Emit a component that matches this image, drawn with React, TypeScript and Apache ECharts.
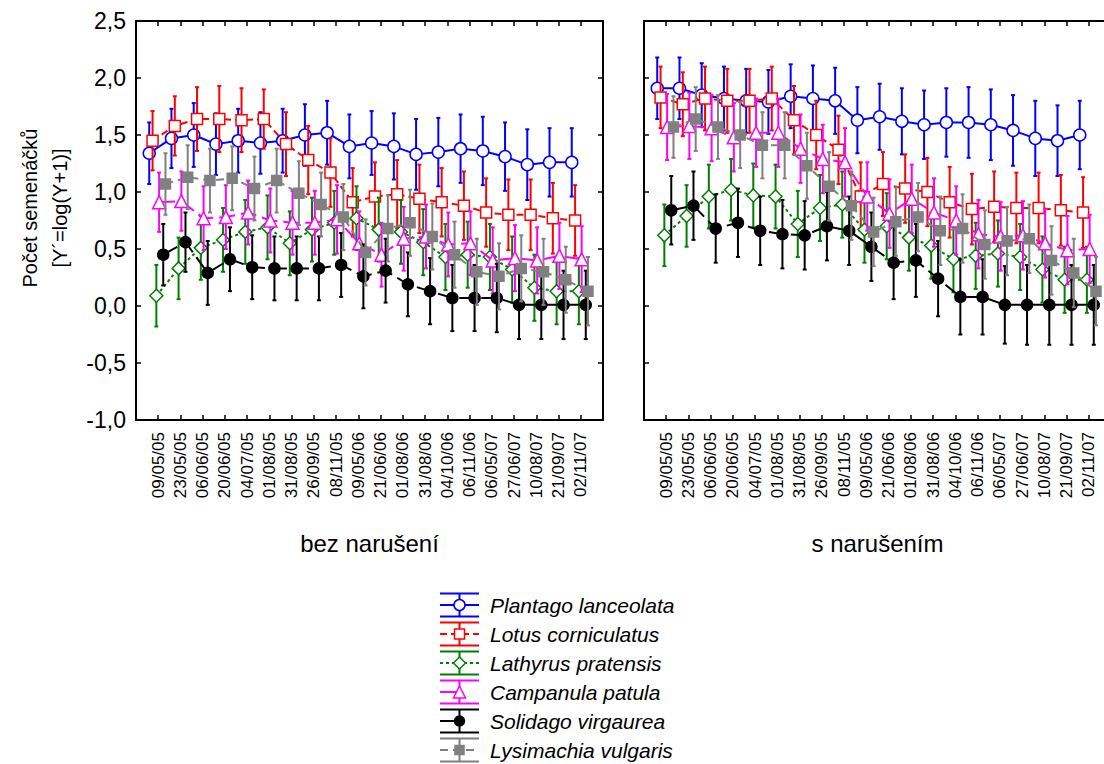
import React, { useEffect, useRef } from 'react';
import * as echarts from 'echarts';

const dates = [
  '09/05/05', '23/05/05', '06/06/05', '20/06/05', '04/07/05', '01/08/05', '31/08/05',
  '26/09/05', '08/11/05', '09/05/06', '21/06/06', '01/08/06', '31/08/06', '04/10/06',
  '06/11/06', '06/05/07', '27/06/07', '10/08/07', '21/09/07', '02/11/07',
];

const speciesNames = [
  'Plantago lanceolata',
  'Lotus corniculatus',
  'Lathyrus pratensis',
  'Campanula patula',
  'Solidago virgaurea',
  'Lysimachia vulgaris',
];

const panelTitles = ['bez narušení', 's narušením'];

// bez narušení – průměry
const plantagoA = [1.34, 1.47, 1.50, 1.42, 1.45, 1.43, 1.45, 1.50, 1.52, 1.40, 1.43, 1.40, 1.33, 1.35, 1.38, 1.36, 1.31, 1.24, 1.26, 1.26];
const lotusA = [1.45, 1.58, 1.64, 1.64, 1.63, 1.64, 1.42, 1.28, 1.17, 0.91, 0.96, 0.98, 0.94, 0.91, 0.88, 0.82, 0.80, 0.80, 0.77, 0.75];
const lathyrusA = [0.09, 0.33, 0.51, 0.58, 0.65, 0.69, 0.55, 0.67, 0.73, 0.77, 0.67, 0.65, 0.56, 0.43, 0.45, 0.43, 0.32, 0.16, 0.13, 0.13];
const campanulaA = [0.91, 0.92, 0.77, 0.78, 0.82, 0.75, 0.73, 0.73, 0.76, 0.55, 0.45, 0.59, 0.61, 0.54, 0.55, 0.40, 0.42, 0.40, 0.44, 0.41];
const solidagoA = [0.45, 0.56, 0.29, 0.41, 0.34, 0.33, 0.33, 0.33, 0.36, 0.26, 0.31, 0.19, 0.13, 0.07, 0.07, 0.07, 0.01, 0.01, 0.01, 0.01];
const lysimachiaA = [1.07, 1.13, 1.10, 1.12, 1.03, 1.10, 0.99, 0.89, 0.78, 0.47, 0.68, 0.73, 0.61, 0.45, 0.30, 0.26, 0.33, 0.30, 0.23, 0.13];

// bez narušení – polovina chybové úsečky
const errPlantagoA = [0.27, 0.26, 0.28, 0.27, 0.28, 0.27, 0.28, 0.27, 0.28, 0.28, 0.28, 0.29, 0.31, 0.30, 0.30, 0.30, 0.30, 0.31, 0.30, 0.30];
const errLotusA = [0.26, 0.26, 0.28, 0.29, 0.28, 0.26, 0.28, 0.30, 0.30, 0.30, 0.30, 0.30, 0.30, 0.30, 0.30, 0.30, 0.31, 0.31, 0.31, 0.31];
const errLathyrusA = [0.27, 0.27, 0.28, 0.28, 0.28, 0.28, 0.28, 0.28, 0.28, 0.28, 0.28, 0.28, 0.29, 0.29, 0.29, 0.29, 0.29, 0.29, 0.29, 0.29];
const errCampanulaA = [0.26, 0.26, 0.28, 0.28, 0.28, 0.28, 0.28, 0.28, 0.30, 0.28, 0.28, 0.28, 0.28, 0.28, 0.28, 0.29, 0.29, 0.29, 0.29, 0.29];
const errSolidagoA = [0.27, 0.26, 0.28, 0.28, 0.28, 0.28, 0.28, 0.28, 0.28, 0.28, 0.28, 0.28, 0.29, 0.29, 0.29, 0.30, 0.30, 0.30, 0.30, 0.30];
const errLysimachiaA = [0.27, 0.28, 0.28, 0.28, 0.28, 0.28, 0.28, 0.28, 0.29, 0.29, 0.29, 0.29, 0.29, 0.29, 0.29, 0.29, 0.29, 0.29, 0.29, 0.30];

// s narušením – průměry
const plantagoB = [1.91, 1.91, 1.85, 1.82, 1.80, 1.79, 1.84, 1.82, 1.80, 1.63, 1.66, 1.62, 1.59, 1.61, 1.61, 1.59, 1.54, 1.47, 1.45, 1.50];
const lotusB = [1.83, 1.77, 1.82, 1.80, 1.80, 1.82, 1.63, 1.50, 1.37, 0.96, 1.07, 1.03, 1.00, 0.91, 0.85, 0.87, 0.86, 0.86, 0.84, 0.82];
const lathyrusB = [0.62, 0.79, 0.96, 1.02, 0.97, 0.96, 0.72, 0.86, 0.89, 0.67, 0.70, 0.60, 0.53, 0.41, 0.44, 0.46, 0.43, 0.32, 0.23, 0.23];
const campanulaB = [1.57, 1.58, 1.56, 1.48, 1.52, 1.52, 1.38, 1.29, 1.26, 0.96, 0.81, 0.94, 0.82, 0.75, 0.63, 0.61, 0.62, 0.55, 0.49, 0.50];
const solidagoB = [0.84, 0.88, 0.68, 0.73, 0.66, 0.63, 0.62, 0.70, 0.66, 0.52, 0.38, 0.40, 0.24, 0.08, 0.08, 0.01, 0.01, 0.01, 0.01, 0.01];
const lysimachiaB = [1.57, 1.64, 1.57, 1.50, 1.41, 1.41, 1.23, 1.05, 0.88, 0.65, 0.74, 0.78, 0.66, 0.68, 0.54, 0.57, 0.59, 0.40, 0.29, 0.13];

// s narušením – polovina chybové úsečky
const errPlantagoB = [0.27, 0.27, 0.28, 0.28, 0.28, 0.28, 0.28, 0.29, 0.29, 0.29, 0.29, 0.29, 0.30, 0.30, 0.31, 0.31, 0.31, 0.33, 0.31, 0.30];
const errLotusB = [0.27, 0.28, 0.28, 0.28, 0.28, 0.28, 0.30, 0.30, 0.30, 0.30, 0.28, 0.30, 0.30, 0.31, 0.31, 0.31, 0.31, 0.31, 0.31, 0.31];
const errLathyrusB = [0.27, 0.27, 0.28, 0.27, 0.28, 0.28, 0.29, 0.29, 0.29, 0.29, 0.29, 0.29, 0.29, 0.29, 0.29, 0.29, 0.29, 0.29, 0.29, 0.29];
const errCampanulaB = [0.29, 0.29, 0.29, 0.30, 0.30, 0.30, 0.30, 0.30, 0.30, 0.30, 0.30, 0.30, 0.30, 0.30, 0.30, 0.30, 0.30, 0.30, 0.30, 0.30];
const errSolidagoB = [0.30, 0.30, 0.30, 0.30, 0.30, 0.30, 0.30, 0.30, 0.30, 0.30, 0.32, 0.32, 0.33, 0.33, 0.33, 0.34, 0.35, 0.35, 0.35, 0.35];
const errLysimachiaB = [0.27, 0.28, 0.28, 0.29, 0.29, 0.29, 0.29, 0.30, 0.30, 0.30, 0.30, 0.30, 0.30, 0.30, 0.30, 0.30, 0.30, 0.30, 0.30, 0.30];

const meansByPanel = [
  [plantagoA, lotusA, lathyrusA, campanulaA, solidagoA, lysimachiaA],
  [plantagoB, lotusB, lathyrusB, campanulaB, solidagoB, lysimachiaB],
];
const errsByPanel = [
  [errPlantagoA, errLotusA, errLathyrusA, errCampanulaA, errSolidagoA, errLysimachiaA],
  [errPlantagoB, errLotusB, errLathyrusB, errCampanulaB, errSolidagoB, errLysimachiaB],
];

const FONT = '"Liberation Sans", Arial, sans-serif';

// vzhled jednotlivých druhů
const looks = [
  { color: '#0000ff', symbol: 'circle', size: 12, hollow: true, dash: 'solid' as any, legendHalf: false, shift: -0.405 },
  { color: '#ff0000', symbol: 'rect', size: 11, hollow: true, dash: [7, 4], legendHalf: false, shift: -0.255 },
  { color: '#008000', symbol: 'diamond', size: 13, hollow: true, dash: [3, 3], legendHalf: false, shift: -0.085 },
  { color: '#ff00ff', symbol: 'triangle', size: 13, hollow: true, dash: [16, 6], legendHalf: true, shift: 0.04 },
  { color: '#000000', symbol: 'circle', size: 11, hollow: false, dash: [16, 6], legendHalf: true, shift: 0.225 },
  { color: '#808080', symbol: 'rect', size: 10, hollow: false, dash: [8, 5], legendHalf: false, shift: 0.325 },
];

const grids = [
  { left: 136, top: 21, width: 467, height: 399 },
  { left: 644, top: 21, width: 467, height: 399 },
];

const App: React.FC = () => {
  const chartRef = useRef<HTMLDivElement>(null);

  useEffect(() => {
    if (!chartRef.current) return;
    const chart = echarts.init(chartRef.current, null, { renderer: 'svg' });

    const xAxes: any[] = [];
    const yAxes: any[] = [];
    grids.forEach((_, p) => {
      const frameLine = { show: true, onZero: false, lineStyle: { color: '#000', width: 2 } };
      const tick = { show: true, inside: true, length: 5, lineStyle: { color: '#000', width: 1.5 } };
      xAxes.push({
        type: 'value', gridIndex: p, position: 'bottom', min: 0, max: 21, interval: 1,
        axisLine: frameLine, axisTick: tick, splitLine: { show: false },
        axisLabel: {
          rotate: 90, margin: 12, fontSize: 17, fontFamily: FONT, color: '#000',
          formatter: (v: number) => dates[v - 1] || '',
        },
      });
      xAxes.push({
        type: 'value', gridIndex: p, position: 'top', min: 0, max: 21, interval: 1,
        axisLine: frameLine, axisTick: tick, splitLine: { show: false }, axisLabel: { show: false },
      });
      yAxes.push({
        type: 'value', gridIndex: p, position: 'left', min: -1, max: 2.5, interval: 0.5,
        axisLine: frameLine, axisTick: tick, splitLine: { show: false },
        axisLabel: {
          show: p === 0, margin: 10, fontSize: 23, fontFamily: FONT, color: '#000',
          formatter: (v: number) => v.toFixed(1).replace('.', ','),
        },
      });
      yAxes.push({
        type: 'value', gridIndex: p, position: 'right', min: -1, max: 2.5, interval: 0.5,
        axisLine: frameLine, axisTick: tick, splitLine: { show: false }, axisLabel: { show: false },
      });
    });

    const series: any[] = [];
    grids.forEach((_, p) => {
      looks.forEach((lk, s) => {
        const means = meansByPanel[p][s];
        const errs = errsByPanel[p][s];
        series.push({
          type: 'custom',
          name: speciesNames[s] + ' SE',
          xAxisIndex: p * 2,
          yAxisIndex: p * 2,
          z: 10 + s * 2,
          silent: true,
          data: means.map((m, k) => [k + 1 + lk.shift, m - errs[k], m + errs[k]]),
          encode: { x: 0, y: [1, 2] },
          renderItem: (_params: any, api: any) => {
            const x = api.value(0);
            const lo = api.coord([x, api.value(1)]);
            const hi = api.coord([x, api.value(2)]);
            const style = { stroke: lk.color, lineWidth: 2 };
            return {
              type: 'group',
              children: [
                { type: 'line', shape: { x1: lo[0], y1: lo[1], x2: hi[0], y2: hi[1] }, style },
                { type: 'line', shape: { x1: hi[0] - 2, y1: hi[1], x2: hi[0] + 2, y2: hi[1] }, style },
                { type: 'line', shape: { x1: lo[0] - 2, y1: lo[1], x2: lo[0] + 2, y2: lo[1] }, style },
              ],
            };
          },
        });
        series.push({
          type: 'line',
          name: speciesNames[s],
          xAxisIndex: p * 2,
          yAxisIndex: p * 2,
          z: 11 + s * 2,
          silent: true,
          data: means.map((m, k) => [k + 1 + lk.shift, m]),
          symbol: lk.symbol,
          symbolSize: lk.size,
          showAllSymbol: true,
          itemStyle: { color: lk.hollow ? '#ffffff' : lk.color, borderColor: lk.color, borderWidth: 1.5, opacity: 1 },
          lineStyle: { color: lk.color, width: 2, type: lk.dash },
        });
      });
    });

    // legenda kreslená ručně (chybová úsečka + značka)
    const legend: any[] = [];
    looks.forEach((lk, i) => {
      const cy = 605 + 29 * i;
      const cx = 459.5;
      const st = { stroke: lk.color, lineWidth: 2 };
      legend.push({ type: 'line', shape: { x1: 440, y1: cy - 11.5, x2: 479, y2: cy - 11.5 }, style: st });
      legend.push({ type: 'line', shape: { x1: 440, y1: cy + 11.5, x2: 479, y2: cy + 11.5 }, style: st });
      legend.push({ type: 'line', shape: { x1: cx, y1: cy - 11.5, x2: cx, y2: cy + 11.5 }, style: st });
      legend.push({
        type: 'line', shape: { x1: 440, y1: cy, x2: lk.legendHalf ? cx : 479, y2: cy },
        style: { stroke: lk.color, lineWidth: 2, lineDash: Array.isArray(lk.dash) && !lk.legendHalf ? lk.dash : null },
      });
      const mstyle = { fill: lk.hollow ? '#fff' : lk.color, stroke: lk.color, lineWidth: 1.5 };
      const r = lk.size / 2 - 0.5;
      if (lk.symbol === 'circle') {
        legend.push({ type: 'circle', shape: { cx, cy, r }, style: mstyle });
      } else if (lk.symbol === 'rect') {
        legend.push({ type: 'rect', shape: { x: cx - r, y: cy - r, width: 2 * r, height: 2 * r }, style: mstyle });
      } else if (lk.symbol === 'diamond') {
        legend.push({ type: 'polygon', shape: { points: [[cx, cy - r], [cx + r, cy], [cx, cy + r], [cx - r, cy]] }, style: mstyle });
      } else {
        legend.push({ type: 'polygon', shape: { points: [[cx, cy - r], [cx + r, cy + r], [cx - r, cy + r]] }, style: mstyle });
      }
      legend.push({
        type: 'text', x: 490, y: cy,
        style: {
          text: speciesNames[i], fill: '#000', fontSize: 21, fontStyle: 'italic', fontFamily: FONT,
          align: 'left', verticalAlign: 'middle',
        },
      });
    });

    const titles = panelTitles.map((t, p) => ({
      type: 'text',
      x: grids[p].left + grids[p].width / 2,
      y: 543,
      style: { text: t, fill: '#000', fontSize: 24, fontFamily: FONT, align: 'center', verticalAlign: 'middle' },
    }));

    const option: any = {
      animation: false,
      backgroundColor: '#ffffff',
      grid: grids.map((g) => ({ ...g, containLabel: false })),
      xAxis: xAxes,
      yAxis: yAxes,
      series,
      graphic: [
        {
          type: 'text',
          x: 45,
          y: 208,
          rotation: Math.PI / 2,
          style: {
            text: 'Počet semenáčků\n[Y´=log(Y+1)]',
            fill: '#000', fontSize: 20, fontFamily: FONT, lineHeight: 30,
            align: 'center', verticalAlign: 'middle',
          },
        },
        ...titles,
        ...legend,
      ],
    };

    chart.setOption(option);
    return () => {
      chart.dispose();
    };
  }, []);

  return (
    <div style={{ position: 'fixed', left: 0, top: 0, width: 1104, height: 764, overflow: 'hidden', background: '#fff' }}>
      <div ref={chartRef} style={{ width: 1120, height: 764 }} />
    </div>
  );
};

export default App;
